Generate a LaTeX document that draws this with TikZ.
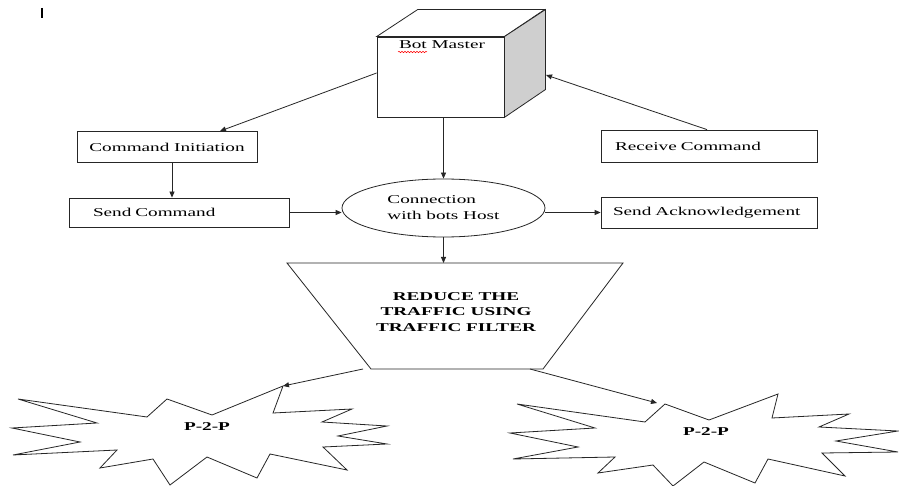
\documentclass[tikz,border=0pt]{standalone}
\usepackage{fontspec}
\setmainfont{Liberation Serif}[FakeStretch=1.6]
\usetikzlibrary{arrows.meta,shapes.geometric,decorations.pathmorphing}
\begin{document}
\begin{tikzpicture}[x=1pt,y=-1pt,
  ln/.style={draw=black!85,line width=0.8pt},
  arr/.style={ln,-{Triangle[length=6pt,width=5pt]}},
  txt/.style={font=\fontsize{12}{14}\selectfont,text=black},
  boxnode/.style={ln,rectangle,txt,inner ysep=0pt},
  bold/.style={font=\bfseries\fontsize{12}{15.5}\selectfont,text=black,align=center},
  star/.style={ln,fill=white,line join=miter}
]
\fill[white] (0,0) rectangle (899,486);
\useasboundingbox (0,0) rectangle (899,486);

% cursor mark
\draw[line width=2pt] (42,8) -- (42,18);

% Bot Master cube
\node[ln,rectangle,minimum width=127pt,minimum height=80pt,inner sep=0pt,fill=white] (bm) at (440.5,77) {};
\draw[ln,fill=white] (bm.north west) -- ++(41,-27) -- ++(127,0) -- (bm.north east) -- cycle;
\draw[ln,fill=gray!38] (bm.north east) -- ++(41,-27) -- ++(0,80) -- (bm.south east) -- cycle;
\node[txt] (bmt) at (442,45) {Bot Master};
\draw[red,line width=0.5pt,decorate,decoration={snake,amplitude=0.7pt,segment length=3pt}] (398,52) -- (427,52);
\coordinate (bmr) at (546,75);

% boxes
\node[boxnode,minimum width=180pt,minimum height=31pt] (ci) at (167,147) {Command Initiation};
\node[boxnode,minimum height=29pt,text width=172pt,inner xsep=24pt,align=left] (sc) at (179,212.5) {Send Command};
\node[boxnode,minimum height=32pt,text width=188pt,inner xsep=14pt,align=left] (rc) at (709,146) {Receive Command};
\node[boxnode,minimum height=31pt,text width=192pt,inner xsep=12pt,align=left] (sa) at (709,212.5) {Send Acknowledgement};

% ellipse
\node[ln,ellipse,minimum width=203pt,minimum height=58pt,inner sep=0pt,align=left,font=\fontsize{12}{16}\selectfont,text=black] (conn) at (443.5,208) {Connection\\with bots Host};

% trapezoid filter
\coordinate (tl) at (287,263);
\coordinate (tr) at (623,263);
\coordinate (br) at (543,369);
\coordinate (bl) at (371,369);
\draw[ln] (tl) -- (tr) -- (br) -- (bl) -- cycle;
\node[bold] (rt) at (456,312) {REDUCE THE\\TRAFFIC USING\\TRAFFIC FILTER};
\coordinate (ttop) at (443.5,263);

% starbursts
\draw[star] (167,399) -- (212,415) -- (283,386) -- (273,413) -- (352,409) -- (322,422) -- (387,426) -- (338,436) -- (387,444) -- (323,447) -- (347,470) -- (270,454) -- (257,478) -- (207,457) -- (170,485) -- (153,459) -- (100,468) -- (117,450) -- (13,455) -- (80,442) -- (12,428) -- (97,423) -- (18,399) -- (147,417) -- cycle;
\node[bold] (pl) at (207,427) {P-2-P};
\draw[star] (665,404) -- (709,420) -- (778,394) -- (772,418) -- (849,414) -- (819,427) -- (898,431) -- (836,441) -- (898,452) -- (822,453) -- (845,476) -- (768,459) -- (755,483) -- (704,462) -- (673,486) -- (653,465) -- (598,473) -- (615,457) -- (513,459) -- (578,447) -- (510,433) -- (595,428) -- (517,404) -- (645,422) -- cycle;
\node[bold] (pr) at (706,432) {P-2-P};

\coordinate (lfrom) at (363,369);
\coordinate (lto) at (283,386);
\coordinate (rfrom) at (530,369);
\coordinate (rto) at (657,403);

% connectors
\draw[arr] ([yshift=4pt]bm.west) -- ([xshift=53pt]ci.north);
\draw[arr] ([xshift=-2pt]rc.north) -- (bmr);
\draw[arr] (conn.north |- bm.south) -- (conn.north);
\draw[arr] ([xshift=5pt]ci.south) -- ([xshift=5pt]ci.south |- sc.north);
\draw[arr] (sc.east) -- (sc.east -| conn.west);
\draw[arr] (sa.west -| conn.east) -- (sa.west);
\draw[arr] (conn.south) -- (ttop);
\draw[arr] (lfrom) -- (lto);
\draw[arr] (rfrom) -- (rto);
\end{tikzpicture}
\end{document}
